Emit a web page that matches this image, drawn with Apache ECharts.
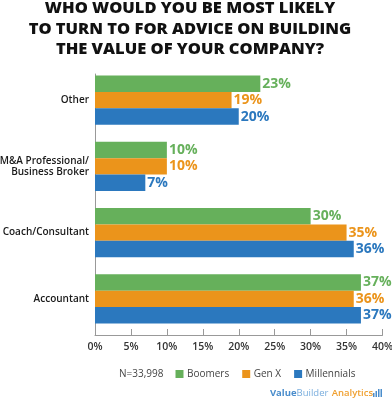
<!DOCTYPE html>
<html><head><meta charset="utf-8">
<script src="https://cdn.jsdelivr.net/npm/echarts@6/dist/echarts.min.js"></script>
<style>html,body{margin:0;padding:0;background:#fff}#c{width:392px;height:399px}</style>
</head><body><div id="c"></div>
<script>
const categories = ['Other', 'M&A Professional/\nBusiness Broker', 'Coach/Consultant', 'Accountant'];
const boomers = [23, 10, 30, 37];
const genX = [19, 10, 35, 36];
const millennials = [20, 7, 36, 37];
const xTicks = [0, 5, 10, 15, 20, 25, 30, 35, 40];
const seriesNames = ['Boomers', 'Gen X', 'Millennials'];
const colors = ['#66b05b', '#eb941b', '#2b78be'];

const F = '"Open Sans", "Noto Sans", sans-serif';
const chart = echarts.init(document.getElementById('c'), null, {renderer: 'canvas'});
function bar(name, data, color) {
  return {
    type: 'bar', name, data, xAxisIndex: 0, yAxisIndex: 0,
    barWidth: 16.4, barGap: '0%',
    itemStyle: {color},
    label: {show: true, position: 'right', distance: 2, color, fontFamily: F,
            fontWeight: 'bold', fontSize: 14, formatter: '{c}%'},
    animation: false
  };
}
chart.setOption({
  animation: false,
  textStyle: {fontFamily: F},
  title: {
    text: 'WHO WOULD YOU BE MOST LIKELY\nTO TURN TO FOR ADVICE ON BUILDING\nTHE VALUE OF YOUR COMPANY?',
    left: 190, textAlign: 'center', top: -2, padding: 0,
    textStyle: {fontFamily: F, fontSize: 16.5, fontWeight: 800, color: '#111', lineHeight: 20.7, align: 'center'}
  },
  grid: [
    {left: 95, right: 9.5, top: 67, height: 265, outerBoundsMode: 'none', containLabel: false},
    {left: 95, right: 9.5, top: 74, bottom: 64, outerBoundsMode: 'none', containLabel: false}
  ],
  xAxis: [
    {gridIndex: 0, type: 'value', min: xTicks[0], max: xTicks[xTicks.length-1], interval: 5, show: false},
    {gridIndex: 1, type: 'value', min: xTicks[0], max: xTicks[xTicks.length-1], interval: 5,
     axisLine: {show: true, lineStyle: {color: '#999', width: 1}},
     axisTick: {show: true, inside: true, length: 6, lineStyle: {color: '#999'}},
     splitLine: {show: false},
     axisLabel: {formatter: '{value}%', color: '#333', fontSize: 10.5, fontWeight: 600, margin: 7, fontFamily: F}}
  ],
  yAxis: [
    {gridIndex: 0, type: 'category', data: categories, inverse: true,
     axisLine: {show: false}, axisTick: {show: false},
     axisLabel: {color: '#1a1a1a', fontSize: 10, fontWeight: 600, margin: 6, lineHeight: 11, fontFamily: F}},
    {gridIndex: 1, type: 'value', min: 0, max: 1,
     axisLine: {show: true, lineStyle: {color: '#999', width: 1}},
     axisTick: {show: false}, axisLabel: {show: false}, splitLine: {show: false}}
  ],
  legend: {
    data: seriesNames, left: 175.5, top: 369, padding: 0, itemWidth: 8, itemHeight: 8, itemGap: 13,
    icon: 'rect',
    textStyle: {color: '#444', fontSize: 10, fontFamily: F, padding: [0, 0, 0, -1.5]}
  },
  graphic: [
    {type: 'text', left: 119, top: 369, style: {text: 'N=33,998', fill: '#444', font: '10px ' + F}},
    {type: 'text', right: 19, top: 387.5, style: {
      text: '{a|Value}{b|Builder} {c|Analytics}',
      rich: {
        a: {fill: '#4a8dcc', fontSize: 9.5, fontWeight: 'bold', fontFamily: F},
        b: {fill: '#7aaede', fontSize: 9.5, fontFamily: F},
        c: {fill: '#f0a030', fontSize: 9.5, fontWeight: 600, fontFamily: F}
      }}},
    {type: 'group', right: 10, top: 389, children: [
      {type: 'rect', shape: {x: 0, y: 4, width: 1.5, height: 4}, style: {fill: '#4a8dcc'}},
      {type: 'rect', shape: {x: 2.5, y: 2, width: 1.5, height: 6}, style: {fill: '#4a8dcc'}},
      {type: 'rect', shape: {x: 5, y: 0, width: 1.5, height: 8}, style: {fill: '#4a8dcc'}},
      {type: 'rect', shape: {x: 7.5, y: 0, width: 1.5, height: 8}, style: {fill: '#4a8dcc'}}
    ]}
  ],
  series: [
    bar(seriesNames[0], boomers, colors[0]),
    bar(seriesNames[1], genX, colors[1]),
    bar(seriesNames[2], millennials, colors[2])
  ]
});
</script></body></html>
